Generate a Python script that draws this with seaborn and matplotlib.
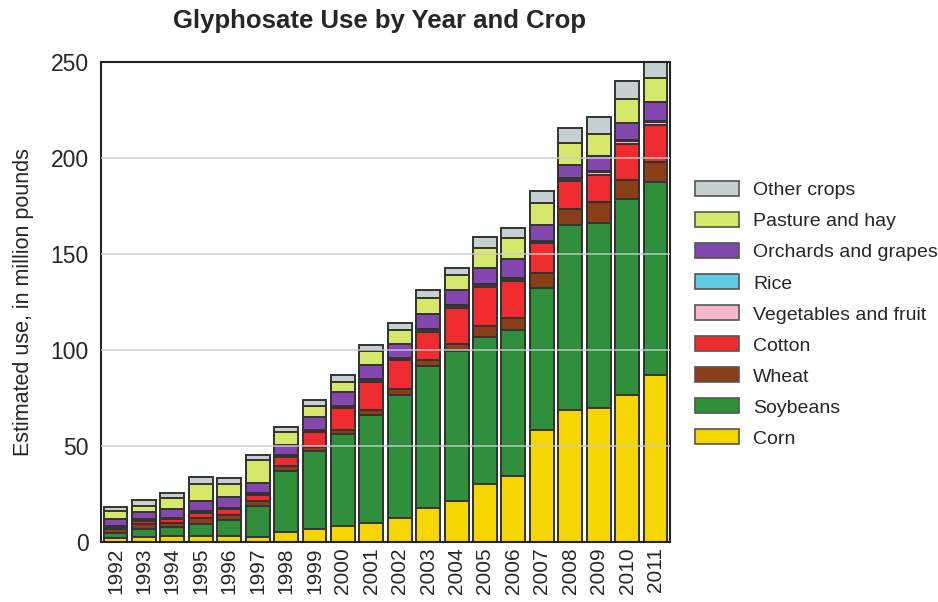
import numpy as np
import pandas as pd
import matplotlib
matplotlib.use('Agg')
import matplotlib.pyplot as plt
from matplotlib.patches import Patch
import seaborn as sns

years = [str(y) for y in range(1992, 2012)]

# estimated glyphosate use, million pounds
corn = [2, 2.5, 2.8, 3, 3, 2.5, 5, 6.5, 8, 10, 12.5, 17.5, 21.5, 30, 34.5, 58, 68.5, 69.5, 76.5, 87]
soybeans = [2.5, 4, 5, 6.5, 8.5, 16, 32, 41, 48, 56, 64, 74, 78, 76.5, 76, 74, 96.5, 96.5, 102, 100.5]
wheat = [2, 3, 2, 3, 2.5, 2.5, 2.5, 2, 2.5, 2.5, 3, 3, 3.5, 6, 6, 8, 8.5, 11, 10, 10.5]
cotton = [1, 1.5, 2, 2.5, 3, 3.5, 4.5, 7.5, 11, 15, 15, 15, 19, 20.5, 19.5, 15.5, 14.5, 14, 19, 19]
vegetables = [0.5, 0.5, 0.4, 0.5, 0.5, 0.5, 0.5, 0.5, 0.8, 0.8, 0.8, 0.8, 0.8, 0.8, 0.8, 0.8, 0.8, 1.5, 1.5, 2]
rice = [0.3, 0.3, 0.2, 0.3, 0.3, 0.3, 0.5, 0.5, 0.5, 0.5, 0.5, 0.5, 0.5, 0.6, 0.6, 0.5, 0.5, 0.5, 0.5, 0.5]
orchards = [3.5, 3.5, 4.5, 5.5, 5.5, 5.5, 5.5, 7, 7.5, 7.5, 7.5, 8, 8, 8.5, 10, 8.5, 7, 8, 8.5, 9.5]
pasture = [4, 3.5, 6, 9, 7, 12, 6.5, 6, 5, 7, 7, 8, 7.5, 10, 11, 11, 11.5, 11.5, 12.5, 12.5]
other = [2.5, 3, 2.4, 3.5, 3, 2.5, 3, 3, 3.5, 3.5, 3.5, 4.5, 4, 6, 5, 6.5, 8, 9, 9.5, 9]

crops = ['Corn', 'Soybeans', 'Wheat', 'Cotton', 'Vegetables and fruit',
         'Rice', 'Orchards and grapes', 'Pasture and hay', 'Other crops']
colors = ['#f6d600', '#2f8f3a', '#8a3f19', '#ee2b2e', '#f6b7cb',
          '#5ccbe3', '#8447ad', '#d6e86c', '#c6d0d0']

df = pd.DataFrame({'Year': years, 'Corn': corn, 'Soybeans': soybeans, 'Wheat': wheat,
                   'Cotton': cotton, 'Vegetables and fruit': vegetables, 'Rice': rice,
                   'Orchards and grapes': orchards, 'Pasture and hay': pasture,
                   'Other crops': other})
cum = df[crops].cumsum(axis=1)

sns.set_style('white')
plt.rcParams['font.family'] = ['Liberation Sans', 'DejaVu Sans']

fig = plt.figure(figsize=(9.38, 6.02), dpi=100)
ax = fig.add_axes([0.108, 0.100, 0.606, 0.797])

# layer cake: tallest cumulative first, lower ones drawn over it
for crop, col in zip(crops[::-1], colors[::-1]):
    sns.barplot(x=df['Year'], y=cum[crop], color=col, width=0.84,
                edgecolor='#333333', linewidth=1.4, saturation=1, ax=ax)

for v in [50, 100, 150, 200]:
    ax.axhline(v, color='#c9c9d6', lw=1.3, alpha=0.8, zorder=5)

ax.set_ylim(0, 250)
ax.set_xlim(-0.5, 19.5)
ax.set_yticks([0, 50, 100, 150, 200, 250])
ax.tick_params(axis='y', labelsize=16.5, length=0, pad=9)
ax.tick_params(axis='x', labelsize=15, length=0, pad=4, rotation=90)
ax.set_xlabel('')
ax.set_ylabel('Estimated use, in million pounds', fontsize=15.5, labelpad=12)
for s in ax.spines.values():
    s.set_color('#222222')
    s.set_linewidth(1.5)

fig.suptitle('Glyphosate Use by Year and Crop', x=0.405, y=0.985,
             fontsize=18.5, fontweight='bold')

handles = [Patch(facecolor=c, edgecolor='#555555', linewidth=1.2, label=n)
           for n, c in zip(crops[::-1], colors[::-1])]
fig.legend(handles=handles, loc='upper left', bbox_to_anchor=(0.722, 0.728),
           frameon=False, fontsize=14, handlelength=2.3, handleheight=0.8,
           labelspacing=0.66, handletextpad=0.7)

fig.savefig('out.png', dpi=100)
